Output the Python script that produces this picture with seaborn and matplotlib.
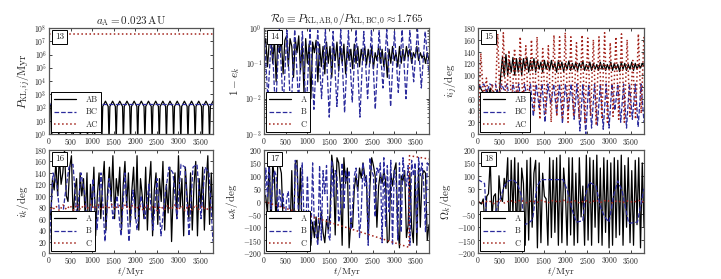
import numpy as np
import matplotlib
matplotlib.use("Agg")
import matplotlib.pyplot as plt
import seaborn as sns

sns.set_style("ticks")
plt.rcParams.update({
    "font.family": "serif",
    "font.serif": ["cmr10", "DejaVu Serif"],
    "mathtext.fontset": "cm",
    "axes.formatter.use_mathtext": True,
    "axes.unicode_minus": True,
    "xtick.direction": "in",
    "ytick.direction": "in",
    "xtick.top": True,
    "ytick.right": True,
    "axes.edgecolor": "#555555",
    "axes.linewidth": 0.9,
})

# ---------------- data ----------------
TMAX = 3800
xticks = [0, 500, 1000, 1500, 2000, 2500, 3000, 3500]
BLACK, BLUE, RED = "black", "#2b2b9c", "#a3241c"

# panel 13: P_KL,ij
t13_ab = [0, 41, 61, 81, 144, 207, 227, 247, 310, 373, 393, 413, 476, 540, 560, 580, 643,
          706, 726, 746, 809, 872, 892, 912, 975, 1038, 1058, 1078, 1141, 1205, 1225, 1245, 1308,
          1371, 1391, 1411, 1474, 1537, 1557, 1577, 1640, 1704, 1724, 1744, 1807, 1870, 1890, 1910, 1973,
          2036, 2056, 2076, 2139, 2202, 2222, 2242, 2305, 2369, 2389, 2409, 2472, 2535, 2555, 2575, 2638,
          2701, 2721, 2741, 2804, 2868, 2888, 2908, 2971, 3034, 3054, 3074, 3137, 3200, 3220, 3240, 3303,
          3366, 3386, 3406, 3469, 3533, 3553, 3573, 3636, 3699, 3719, 3739, 3800]
p13_ab = [300, 120, 0.3, 120, 300, 120, 0.3, 120, 300, 120, 0.3, 120, 300, 120, 0.3, 120, 300,
          120, 0.3, 120, 300, 120, 0.3, 120, 300, 120, 0.3, 120, 300, 120, 0.3, 120, 300,
          120, 0.3, 120, 300, 120, 0.3, 120, 300, 120, 0.3, 120, 300, 120, 0.3, 120, 300,
          120, 0.3, 120, 300, 120, 0.3, 120, 300, 120, 0.3, 120, 300, 120, 0.3, 120, 300,
          120, 0.3, 120, 300, 120, 0.3, 120, 300, 120, 0.3, 120, 300, 120, 0.3, 120, 300,
          120, 0.3, 120, 300, 120, 0.3, 120, 300, 120, 0.3, 120, 300]
t13_const = [0, 3800]
p13_bc = [180, 180]
p13_ac = [3.5e7, 3.5e7]

# panel 14: 1 - e_k
e14_a = [0.3, 0.5, 0.08, 0.4, 0.6, 0.1, 0.5, 0.03, 0.6, 0.2, 0.5, 0.05, 0.45, 0.6, 0.08, 0.5,
         0.3, 0.04, 0.5, 0.2, 0.6, 0.06, 0.4, 0.015, 0.5, 0.1, 0.35, 0.01, 0.4, 0.2, 0.45, 0.03,
         0.35, 0.08, 0.3, 0.05, 0.4, 0.1, 0.3, 0.04, 0.35, 0.12, 0.4, 0.06, 0.3, 0.1, 0.35, 0.05,
         0.3, 0.12, 0.25, 0.07, 0.35, 0.1, 0.3, 0.08, 0.25, 0.12, 0.3, 0.09, 0.25, 0.1, 0.3, 0.07,
         0.2, 0.12, 0.3, 0.1, 0.25, 0.08, 0.2, 0.04, 0.25, 0.1, 0.3, 0.12, 0.2, 0.08, 0.3, 0.1,
         0.25, 0.12, 0.3, 0.15, 0.25, 0.1, 0.2, 0.15, 0.3, 0.12, 0.2, 0.14, 0.18, 0.1, 0.2, 0.12]
e14_b = [0.9, 0.01, 0.8, 0.004, 0.9, 0.006, 0.85, 0.003, 0.9, 0.008, 0.8, 0.004, 0.9, 0.005,
         0.85, 0.01, 0.9, 0.003, 0.8, 0.006, 0.9, 0.004, 0.85, 0.008, 0.9, 0.003, 0.8, 0.01, 0.9,
         0.005, 0.85, 0.02, 0.9, 0.006, 0.8, 0.015, 0.9, 0.01, 0.85, 0.03, 0.9, 0.02, 0.8, 0.05]
e14_c = [0.995, 0.995]

# panel 15: i_ij
i15_ab = [85, 80, 75, 70, 60, 75, 65, 78, 60, 72, 65, 75, 60, 100, 130, 98, 135, 100, 125, 105,
          130, 100, 128, 105, 130, 100, 128, 110, 130, 105, 125, 108, 128, 105, 125, 110, 122, 105,
          125, 110, 122, 108, 125, 110, 120, 105, 125, 110, 122, 106, 120, 110, 124, 108, 120, 110,
          122, 108, 120, 112, 124, 108, 118, 110, 122, 108, 120, 110, 118, 108, 122, 110, 120, 108,
          118, 110, 122, 108, 120, 110, 118, 106, 122, 110, 120, 108, 118, 110, 122, 108, 120, 110,
          118, 112, 120, 115]
i15_bc = [85, 80, 85, 70, 85, 82, 85, 60, 85, 75, 85, 50, 85, 65, 85, 40, 85, 55, 85, 30, 85, 45,
          85, 20, 85, 50, 85, 35, 85, 18, 85, 40, 85, 25, 85, 5, 85, 0, 85, 10, 85, 15, 85, 8, 85,
          10, 85, 40, 85, 20, 85, 10, 85, 25, 85, 12, 85, 20]
i15_ac = [0, 137, 60, 95, 45, 85, 40, 170, 30, 172, 35, 142, 40, 145, 35, 165, 45, 150, 30, 160,
          40, 165, 25, 145, 35, 150, 20, 168, 30, 165, 25, 172, 20, 165, 30, 155, 25, 168, 20, 163,
          30, 160, 15, 165, 25, 172, 20, 155, 30, 165, 25, 170, 20, 160, 30, 125, 25, 170, 35, 168]

# panel 16: i_k
i16_a = [80, 60, 130, 110, 160, 100, 170, 120, 140, 180, 100, 90, 150, 170, 60, 110, 130, 20, 140,
         100, 130, 60, 140, 10, 120, 80, 150, 30, 100, 140, 60, 120, 160, 40, 110, 150, 90, 170, 60,
         130, 100, 150, 40, 120, 160, 80, 140, 50, 110, 150, 60, 170, 40, 130, 100, 60, 150, 40, 120,
         160, 30, 110, 140, 50, 130, 90, 160, 40, 120, 70, 150, 20, 110, 140, 60, 170, 80, 130, 30,
         150, 100, 60, 140, 40, 120, 160, 30, 130, 80, 150, 40, 120, 170, 50, 140, 60]
i16_b = [0, 140, 120, 40, 100, 150, 155, 60, 140, 100, 5, 130, 40, 140, 20, 130, 60, 100, 30, 140,
         20, 110, 40, 100, 60, 120, 40, 130, 30, 100, 150, 140, 60, 155, 150, 30, 150, 155, 60, 150,
         140, 20]
i16_c = [85, 75, 82, 74, 84, 76, 83, 75, 85, 76, 84, 78, 85, 77, 84, 76, 83, 78, 85, 77, 84, 78,
         85, 76, 84, 77, 83, 75, 84, 76, 83, 74, 82, 75, 83, 76, 84, 75, 82, 74, 83, 75, 84, 76, 82,
         75, 80, 78]

# panel 17: omega_k
w17_a = [30, 20, -50, 180, -120, 150, 90, -100, 170, 140, 110, -80, -110, -60, -90, -120, 120, -150,
         150, 160, -50, 130, -140, -160, -60, -120, -100, -170, -80, -140, -60, -150, -90, -40, -120,
         -160, -70, -110, -50, 180, 120, -130, 170, 150, 60, -170, 170, 70, 130, -180, -80, -100, 50,
         100, 40, 130, 90, 150, 100, 80, -150, 60, 170, 140, 100, -100, 60, 110, 70, 120, 80, -160,
         -150, 110, 60, 120, 150, -100, -180, 100, 80, 120, -140, -90, 110, -100, -160, 120, -170, 130,
         -100, 100, 120, 110, -150, -90]
w17_b = [-50, 130, 20, 160, -30, 60, 120, 100, -40, 50, -20, 30, -100, 10, 40, -80, -120, -160, 160,
         130, -80, -150, 150, -60, -130, 100, -110, -150, 150, -100, -130, -170, 140, -150, 120, 30,
         140, -130, -150, 160, 20, 120, 100, -80, -40, 150, -30, 120, 80, 120, -110, -20, 100, 130, 30,
         -140, -40, 150, 60, 100, -170, 170, 120, 100, -60, 130, 110, 150, -160, 170, -100, 140, -40,
         160, -170, 120, 100, -150, 150, -120, 170, 90, 60, 140, -170, 160, 100, 150, -120, 170, 100,
         150, 60, -120, 150, 140]
t17_c = [0, 3340, 3350, 3800]
w17_c = [0, -178, 178, 165]

# panel 18: Omega_k
o18_a = [0, -5, -10, 10, -100, 20, 30, 160, -60, 20, 30, -170, 100, 20, 0, 90, 50, 170, -170, 160,
         -50, 170, -150, 150, -180, 130, 70, -170, 160, -150, 170, -100, 110, 160, -180, 150, -160,
         110, 20, 10, -170, 170, -140, 160, -120, 170, -170, 180, -160, 130, 40, -170, 170, -130, 170,
         -170, 110, -160, 170, -60, 60, -170, 180, -150, 170, -170, 160, -100, 180, -160, 130, -170,
         170, -120, 160, -180, 150, -170, 170, -140, 160, -130, 180, -170, 140, -100, 170, -160, 120,
         -170, 160, -90, 170, -180, 150, -100]
t18_b = [0, 150, 200, 350, 450, 600, 700, 800, 900, 1000, 1050, 1150, 1250, 1350, 1450, 1950, 2050,
         2150, 2250, 2400, 2450, 2550, 2700, 2800, 2900, 3000, 3100, 3200, 3300, 3450, 3650, 3800]
o18_b = [85, 70, -80, -60, -20, 60, 80, 85, 70, 20, -90, -85, -70, 60, 85, 85, 40, -30, -80, -75,
         20, 75, 60, -20, -60, -80, 20, 80, 40, -85, -80, 50]
o18_c = [0, -5, 3, -8, 5, -6, 4, -3, 6, -5, 3, -4, 5, -6, 4, -2, 5, -5, 3, -6, 4, -4, 5, -3, 6, -5,
         3, -4, 2, -3, 4, -2]


def grid(vals):
    return np.linspace(0, TMAX, len(vals))


# ---------------- figure ----------------
W, H = 721, 279
fig = plt.figure(figsize=(W / 100, H / 100), dpi=100)
lefts = [49, 264, 478]
widths = [164, 165, 166]
rows = [(28, 134), (150, 253)]
axes = []
for r, (top, bot) in enumerate(rows):
    for c in range(3):
        ax = fig.add_axes([lefts[c] / W, 1 - bot / H, widths[c] / W, (bot - top) / H])
        axes.append(ax)

LW = 0.9


def line(ax, x, y, color, ls, label, lw=LW):
    sns.lineplot(x=list(x), y=list(y), ax=ax, color=color, linestyle=ls, linewidth=lw,
                 label=label, estimator=None, sort=False)


# 13
ax = axes[0]
line(ax, t13_ab, p13_ab, BLACK, "-", "AB")
line(ax, t13_const, p13_bc, BLUE, "--", "BC")
line(ax, t13_const, p13_ac, RED, ":", "AC", lw=1.1)
ax.set_yscale("log")
ax.set_ylim(1, 1e8)
ax.set_yticks([10.0 ** k for k in range(9)])
ax.set_ylabel(r"$P_{\mathrm{KL},ij}/\mathrm{Myr}$", fontsize=8, labelpad=2)
ax.set_title(r"$a_\mathrm{A} = 0.023\,\mathrm{AU}$", fontsize=8, pad=3)

# 14
ax = axes[1]
line(ax, grid(e14_a), e14_a, BLACK, "-", "A")
line(ax, grid(e14_b), e14_b, BLUE, "--", "B")
line(ax, t13_const, e14_c, RED, ":", "C", lw=1.1)
ax.set_yscale("log")
ax.set_ylim(1e-3, 1)
ax.set_ylabel(r"$1-e_k$", fontsize=8, labelpad=2)
ax.set_title(r"$\mathcal{R}_0 \equiv P_{\mathrm{KL,AB},0}/P_{\mathrm{KL,BC},0} \approx 1.765$",
             fontsize=8, pad=3)

# 15
ax = axes[2]
line(ax, grid(i15_ab), i15_ab, BLACK, "-", "AB")
line(ax, grid(i15_bc), i15_bc, BLUE, "--", "BC")
line(ax, grid(i15_ac), i15_ac, RED, ":", "AC", lw=1.1)
ax.set_ylim(0, 180)
ax.set_yticks(range(0, 181, 20))
ax.set_ylabel(r"$i_{ij}/\mathrm{deg}$", fontsize=8, labelpad=2)

# 16
ax = axes[3]
line(ax, grid(i16_a), i16_a, BLACK, "-", "A")
line(ax, grid(i16_b), i16_b, BLUE, "--", "B")
line(ax, grid(i16_c), i16_c, RED, ":", "C", lw=1.1)
ax.set_ylim(0, 180)
ax.set_yticks(range(0, 181, 20))
ax.set_ylabel(r"$i_k/\mathrm{deg}$", fontsize=8, labelpad=2)

# 17
ax = axes[4]
line(ax, grid(w17_a), w17_a, BLACK, "-", "A")
line(ax, grid(w17_b), w17_b, BLUE, "--", "B")
line(ax, t17_c, w17_c, RED, ":", "C", lw=1.1)
ax.set_ylim(-200, 200)
ax.set_yticks(range(-200, 201, 50))
ax.set_ylabel(r"$\omega_k/\mathrm{deg}$", fontsize=8, labelpad=2)

# 18
ax = axes[5]
line(ax, grid(o18_a), o18_a, BLACK, "-", "A")
line(ax, t18_b, o18_b, BLUE, "--", "B")
line(ax, grid(o18_c), o18_c, RED, ":", "C", lw=1.1)
ax.set_ylim(-200, 200)
ax.set_yticks(range(-200, 201, 50))
ax.set_ylabel(r"$\Omega_k/\mathrm{deg}$", fontsize=8, labelpad=2)

for i, ax in enumerate(axes):
    ax.set_xlim(0, TMAX)
    ax.set_xticks(xticks)
    ax.tick_params(labelsize=5.5, length=2.5, width=0.6, pad=1.5, colors="#222222")
    ax.tick_params(which="minor", length=1.5, width=0.5)
    for s in ax.spines.values():
        s.set_color("#555555")
    if i >= 3:
        ax.set_xlabel(r"$t/\mathrm{Myr}$", fontsize=7)
        ax.xaxis.label.set_va("bottom")
        ax.xaxis.set_label_coords(0.5, -(278 - 253) / 103)
    else:
        ax.set_xlabel("")
    leg = ax.legend(loc="lower left", fontsize=6, frameon=True, fancybox=False,
                    edgecolor="black", framealpha=1, handlelength=2.6, borderpad=0.4,
                    labelspacing=0.5, handletextpad=1.2, borderaxespad=0.2)
    leg.get_frame().set_linewidth(0.7)
    ax.text(0.035, 0.955, str(13 + i), transform=ax.transAxes, fontsize=6.5,
            ha="left", va="top", zorder=5,
            bbox=dict(boxstyle="square,pad=0.3", fc="white", ec="black", lw=0.7))

fig.savefig("out.png", dpi=100)
